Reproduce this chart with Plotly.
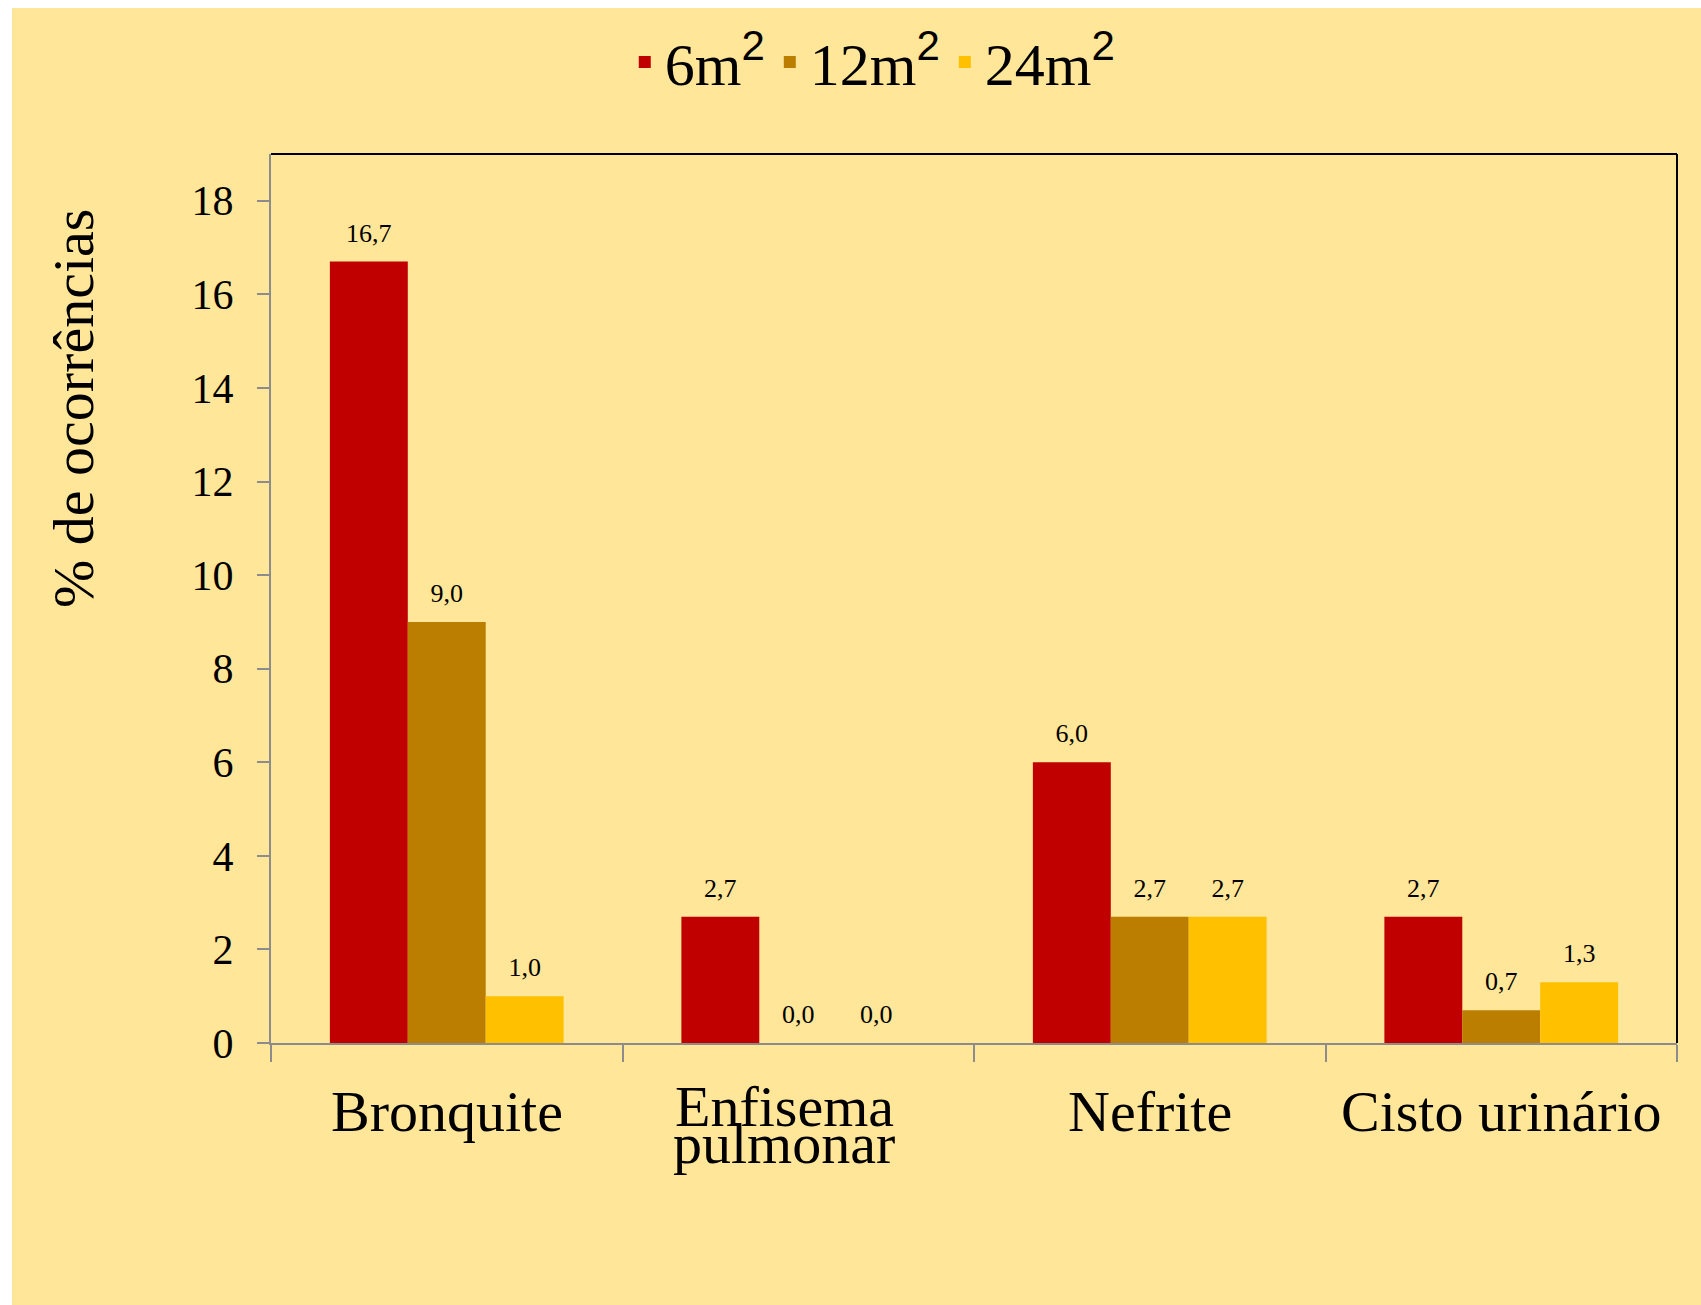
import plotly.graph_objects as go

# ---- data ----
categories = ["Bronquite", "Enfisema pulmonar", "Nefrite", "Cisto urinário"]
category_lines = [["Bronquite"], ["Enfisema", "pulmonar"], ["Nefrite"], ["Cisto urinário"]]
series_names = ["6m", "12m", "24m"]
values_6m = [16.7, 2.7, 6.0, 2.7]
values_12m = [9.0, 0.0, 2.7, 0.7]
values_24m = [1.0, 0.0, 2.7, 1.3]
y_tick_values = [0, 2, 4, 6, 8, 10, 12, 14, 16, 18]
y_title = "% de ocorrências"

series_values = [values_6m, values_12m, values_24m]
colors = ["#C00000", "#BB7E00", "#FFC000"]

W, H = 1701, 1305
ML, MR, MT, MB = 271, 24, 154, 262
PW, PH = W - ML - MR, H - MT - MB
SERIF = "Liberation Serif, Times New Roman, serif"
BG = "#FFE699"
BARGAP = 0.335


def fmt(v):
    return f"{v:.1f}".replace(".", ",")


fig = go.Figure()
for name, vals, col in zip(series_names, series_values, colors):
    fig.add_trace(go.Bar(
        x=categories, y=vals,
        name=f"{name}<sup><span style='font-family:Liberation Sans, Arial, sans-serif'>2</span></sup>",
        marker=dict(color=col, line=dict(width=0)),
        offsetgroup=name,
    ))
for name, vals in zip(series_names, series_values):
    fig.add_trace(go.Scatter(
        x=categories, y=vals, mode="markers+text",
        text=[fmt(v) for v in vals], textposition="top center",
        textfont=dict(family=SERIF, size=26, color="black"),
        marker=dict(size=20, opacity=0), offsetgroup=name,
        showlegend=False, hoverinfo="skip",
    ))

# category labels (multi-line with tight spacing)
annotations = []
for cat, lines in zip(categories, category_lines):
    if len(lines) == 1:
        annotations.append(dict(x=cat, xref="x", y=0, yref="paper", yanchor="top",
                                yshift=-34, text=lines[0], showarrow=False,
                                font=dict(family=SERIF, size=58, color="black")))
    else:
        for i, ln in enumerate(lines):
            annotations.append(dict(x=cat, xref="x", y=0, yref="paper", yanchor="top",
                                    xshift=-14, yshift=-29 - 37 * i, text=ln, showarrow=False,
                                    font=dict(family=SERIF, size=58, color="black")))

# y-axis title placed like the reference (upper part of the axis)
annotations.append(dict(x=(74 - ML) / PW, xref="paper", y=(PH + MT - 409) / PH, yref="paper",
                        xanchor="center", yanchor="middle", textangle=-90,
                        text=y_title, showarrow=False,
                        font=dict(family=SERIF, size=58, color="black")))

shapes = [
    # white strips around the yellow panel
    dict(type="rect", xref="paper", yref="paper", x0=-ML / PW, x1=(12 - ML) / PW,
         y0=-MB / PH, y1=1 + MT / PH, fillcolor="white", line=dict(width=0), layer="below"),
    dict(type="rect", xref="paper", yref="paper", x0=-ML / PW, x1=1 + MR / PW,
         y0=1 + (MT - 8) / PH, y1=1 + MT / PH, fillcolor="white", line=dict(width=0), layer="below"),
    # black top & right frame
    dict(type="line", xref="paper", yref="paper", x0=0, x1=1, y0=1, y1=1,
         line=dict(color="black", width=2)),
    dict(type="line", xref="paper", yref="paper", x0=1, x1=1, y0=0, y1=1,
         line=dict(color="black", width=2)),
]

fig.update_layout(
    width=W, height=H,
    margin=dict(l=ML, r=MR, t=MT, b=MB, autoexpand=False),
    paper_bgcolor=BG, plot_bgcolor=BG,
    barmode="group", bargap=BARGAP, bargroupgap=0,
    scattermode="group", scattergap=BARGAP,
    font=dict(family=SERIF, color="black"),
    showlegend=True,
    legend=dict(orientation="h", x=0.428, xanchor="center", y=1 + 92 / PH, yanchor="middle",
                font=dict(family=SERIF, size=60, color="black"),
                bgcolor="rgba(0,0,0,0)", itemwidth=30, tracegroupgap=0),
    annotations=annotations,
    shapes=shapes,
)
fig.update_xaxes(
    type="category", range=[-0.5, 3.5], showticklabels=False,
    showline=True, linecolor="#8C8C8C", linewidth=2,
    ticks="outside", tickson="boundaries", ticklen=17, tickwidth=2, tickcolor="#8C8C8C",
    showgrid=False, zeroline=False,
)
fig.update_yaxes(
    range=[0, 19], tickvals=y_tick_values, ticktext=[str(v) for v in y_tick_values],
    showline=True, linecolor="#8C8C8C", linewidth=2,
    ticks="outside", ticklen=12, tickwidth=2, tickcolor="#8C8C8C",
    tickfont=dict(family=SERIF, size=42, color="black"), ticklabelstandoff=15,
    showgrid=False, zeroline=False,
)

fig.write_html("out.html", config={"displayModeBar": False},
               post_script="document.body.style.margin='0';document.body.style.overflow='hidden';")
